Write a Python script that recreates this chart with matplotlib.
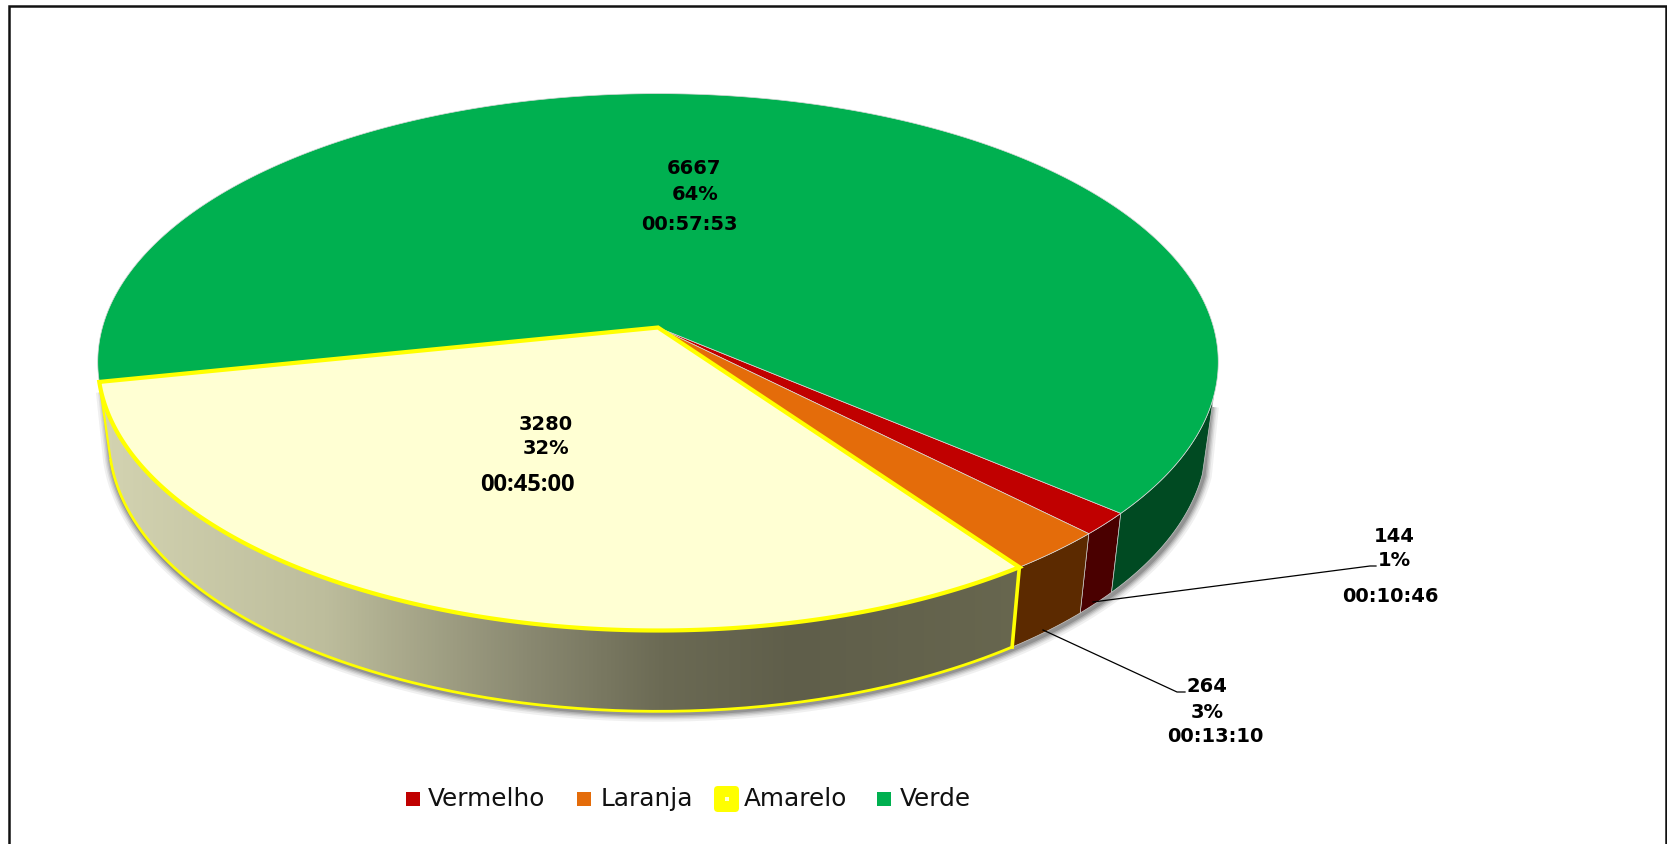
# Perspective pie chart with thick side wall
import numpy as np
import matplotlib
matplotlib.use('Agg')
import matplotlib.pyplot as plt
from matplotlib.patches import Polygon, Rectangle, FancyBboxPatch
from matplotlib.colors import LinearSegmentedColormap

categories = ['Vermelho', 'Laranja', 'Amarelo', 'Verde']
counts = [144, 264, 3280, 6667]
percents = ['1%', '3%', '32%', '64%']
times = ['00:10:46', '00:13:10', '00:45:00', '00:57:53']

top_colors = ['#c00000', '#e46c0a', '#ffffd3', '#00b050']
wall_colors = ['#4a0000', '#5c2a00', '#66654f', '#004a22']

W, H = 1667, 844
CX, CY = 658, 327.5      # pie apex in pixels
A, B, K = 555.6, 264.0, 0.1287   # perspective of the top disc
SX, SY, DROP = 0.98, 1.016, 76   # lower disc relative to the top one
START = -40.2            # first slice starts here, going clockwise
WALL_END = -14.7         # green wall disappears behind the disc here


def top(theta):
    t = np.radians(theta)
    w = 1 + K * np.sin(t)
    return np.column_stack([CX + A * np.cos(t) / w, CY - B * np.sin(t) / w])


def bottom(theta):
    p = top(theta)
    return np.column_stack([CX + (p[:, 0] - CX) * SX,
                            CY + (p[:, 1] - CY) * SY + DROP])


fig = plt.figure(figsize=(W / 100, H / 100), dpi=100)
ax = fig.add_axes([0, 0, 1, 1])
ax.set_xlim(0, W)
ax.set_ylim(H, 0)
ax.axis('off')

# chart frame (no line at the bottom)
ax.plot([9, 9, 1666, 1666], [H, 6, 6, H], color='#111111', lw=1.8, zorder=1,
        solid_joinstyle='miter')

# slice limits from the values
fractions = np.array(counts) / sum(counts)
edges = START - 360 * np.concatenate([[0], np.cumsum(fractions)])

# soft shadow under the wall, running up both side edges
th = np.linspace(edges[3], WALL_END, 300)
arc = np.vstack([top(th[[0]]) + [4, 8], bottom(th), top(th[[-1]]) + [-4, 8]])
for lw, alpha in zip([12, 9, 7, 5, 3], [0.07, 0.09, 0.12, 0.16, 0.22]):
    ax.plot(arc[:, 0] + 1, arc[:, 1] + 2, color='#303030', lw=lw, alpha=alpha,
            solid_capstyle='butt', zorder=2)

# side walls, only where the slice faces the viewer
wall_ranges = [(edges[1], edges[0]), (edges[2], edges[1]),
               (edges[3], edges[2]), (edges[0], WALL_END)]
for i, (a, b) in enumerate(wall_ranges):
    th = np.linspace(a, b, 200)
    pts = np.vstack([top(th), bottom(th[::-1])])
    if i == 2:
        # yellow wall fades from light to dark along x
        poly = Polygon(pts, closed=True, facecolor='none', edgecolor='none', zorder=3)
        ax.add_patch(poly)
        stops = [(0.0, '#d4d4b2'), (0.25, '#bdbd9c'), (0.46, '#8b8a72'),
                 (0.61, '#6b6a54'), (0.75, '#5f5e4a'), (1.0, '#68674f')]
        cmap = LinearSegmentedColormap.from_list('wall', stops)
        grad = np.linspace(0, 1, 512)[None, :]
        im = ax.imshow(grad, cmap=cmap, extent=[90, 1030, 720, 370], aspect='auto', zorder=3)
        im.set_clip_path(poly)
        ax.add_patch(Polygon(bottom(th), closed=False, fill=False, edgecolor='#ffff00',
                             lw=2.0, zorder=4))
        ax.plot(*np.vstack([top(th[[-1]]), bottom(th[[-1]])]).T, color='#ffff00', lw=2.6, zorder=5)
        ax.plot(*np.vstack([top(th[[0]]), bottom(th[[0]])]).T, color='#ffff00', lw=1.6, zorder=4)
    else:
        ax.add_patch(Polygon(pts, closed=True, facecolor=wall_colors[i],
                             edgecolor='#c8c8c8', lw=0.5, zorder=3))
ax.set_xlim(0, W)
ax.set_ylim(H, 0)

# top faces, yellow last so its thick border stays on top
for i in [0, 1, 3, 2]:
    th = np.linspace(edges[i + 1], edges[i], 400)
    pts = np.vstack([[CX, CY], top(th)])
    if i == 2:
        ax.add_patch(Polygon(pts, closed=True, facecolor=top_colors[i], edgecolor='#ffff00',
                             lw=3, joinstyle='miter', zorder=7))
    else:
        ax.add_patch(Polygon(pts, closed=True, facecolor=top_colors[i], edgecolor='#d8d8d8',
                             lw=0.5, zorder=6))

# data labels
VERD = dict(family='DejaVu Sans', fontweight='bold', fontsize=14, color='black',
            ha='center', va='center', zorder=10)
label_pos = [((1394, 537), (1394, 561), (1390, 596)),
             ((1207, 687), (1207, 712), (1215, 736)),
             ((546, 424), (546, 449), (527, 485)),
             ((694, 169), (695, 194), (689, 225))]
for i, (p1, p2, p3) in enumerate(label_pos):
    ax.text(*p1, str(counts[i]), **VERD)
    ax.text(*p2, percents[i], **VERD)
    if i == 2:
        ax.text(*p3, times[i], family='Open Sans', fontweight='bold', fontsize=17,
                color='black', ha='center', va='center', zorder=10)
    else:
        ax.text(*p3, times[i], **VERD)

# leader lines
ax.plot([1093, 1370, 1376], [602, 566, 566], color='black', lw=0.9, zorder=9)
ax.plot([1043, 1177, 1185], [630, 692, 692], color='black', lw=0.9, zorder=9)

# legend
marker_x = [406, 577, None, 877]
text_x = [428, 601, 744, 900]
for i, name in enumerate(categories):
    if i == 2:
        ax.add_patch(FancyBboxPatch((718, 790), 17, 18, boxstyle='round,pad=4,rounding_size=4',
                                    facecolor='#ffff00', edgecolor='none', zorder=5))
        ax.add_patch(Rectangle((724.5, 797), 4, 4, facecolor='#ffffd3', edgecolor='none', zorder=6))
    else:
        ax.add_patch(Rectangle((marker_x[i], 792), 14, 14, facecolor=top_colors[i],
                               edgecolor='none', zorder=5))
    ax.text(text_x[i], 799, name, family='DejaVu Sans', fontsize=17.8, color='#111111',
            ha='left', va='center', zorder=6)

fig.savefig('out.png', dpi=100)
